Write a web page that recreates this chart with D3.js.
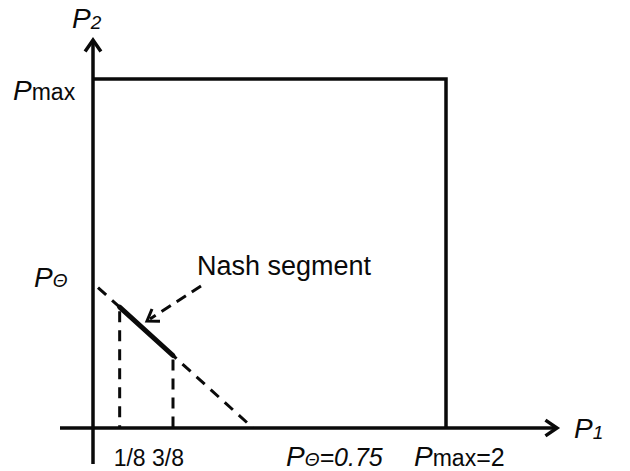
<!DOCTYPE html>
<html>
<head>
<meta charset="utf-8">
<script src="https://cdn.jsdelivr.net/npm/d3@7"></script>
<style>
  body { margin: 0; background: #fff; }
  text { font-family: "Liberation Sans", Arial, sans-serif; fill: #0a0a0a; }
</style>
</head>
<body>
<svg id="chart" width="630" height="471"></svg>
<script>
// values
const breaks = [0, 0.75, 2];          // 0, P_theta, P_max (axis not to scale)
const pTheta = 0.75;
const pMax = 2;
const nashSegment = [1 / 8, 3 / 8];
const xTickLabels = ["1/8", "3/8"];

const svg = d3.select('#chart');

// piecewise scales, the figure is a sketch so the axis is broken at P_theta
const x = d3.scaleLinear().domain(breaks).range([93, 253, 446]);
const y = d3.scaleLinear().domain(breaks).range([428, 283, 79]);

const ink = '#0a0a0a';

// arrow head (open V)
function arrowHead(g, tipX, tipY, angle, len, spread, w) {
  const a1 = angle + Math.PI - spread, a2 = angle + Math.PI + spread;
  g.append('path')
    .attr('d', `M${tipX + len * Math.cos(a1)},${tipY + len * Math.sin(a1)}L${tipX},${tipY}L${tipX + len * Math.cos(a2)},${tipY + len * Math.sin(a2)}`)
    .attr('fill', 'none')
    .attr('stroke', ink)
    .attr('stroke-width', w || 3.5)
    .attr('stroke-linejoin', 'miter');
}

const g = svg.append('g');

// axes
g.append('line')
  .attr('x1', 60).attr('x2', 555)
  .attr('y1', y(0)).attr('y2', y(0))
  .attr('stroke', ink).attr('stroke-width', 3.5);
arrowHead(g, 557, y(0), 0, 14, 0.6);

g.append('line')
  .attr('x1', x(0)).attr('x2', x(0))
  .attr('y1', 464).attr('y2', 43)
  .attr('stroke', ink).attr('stroke-width', 3.5);
arrowHead(g, x(0), 40, -Math.PI / 2, 14, 0.6);

// feasible box
g.append('path')
  .attr('d', d3.line()([[x(0), y(pMax)], [x(pMax), y(pMax)], [x(pMax), y(0)]]))
  .attr('fill', 'none')
  .attr('stroke', ink)
  .attr('stroke-width', 3.5);

// P1 + P2 = P_theta line (dashed)
g.append('line')
  .attr('x1', x(0) + 5).attr('y1', y(pTheta - (x.invert(x(0) + 5))))
  .attr('x2', x(pTheta)).attr('y2', y(0))
  .attr('stroke', ink)
  .attr('stroke-width', 3)
  .attr('stroke-dasharray', '11,8');

// verticals from nash ends
g.selectAll('.drop')
  .data(nashSegment)
  .enter()
  .append('line')
  .attr('class', 'drop')
  .attr('x1', d => x(d)).attr('x2', d => x(d))
  .attr('y1', d => y(pTheta - d) + 4).attr('y2', y(0))
  .attr('stroke', ink)
  .attr('stroke-width', 3)
  .attr('stroke-dasharray', '11,8');

// nash segment (solid, thick)
g.append('line')
  .attr('x1', x(nashSegment[0])).attr('y1', y(pTheta - nashSegment[0]))
  .attr('x2', x(nashSegment[1])).attr('y2', y(pTheta - nashSegment[1]))
  .attr('stroke', ink)
  .attr('stroke-width', 5)
  .attr('stroke-linecap', 'round');

// annotation arrow
const ax0 = 201, ay0 = 286, ax1 = 147, ay1 = 321;
g.append('line')
  .attr('x1', ax0).attr('y1', ay0)
  .attr('x2', ax1 + 3).attr('y2', ay1 - 2)
  .attr('stroke', ink)
  .attr('stroke-width', 3)
  .attr('stroke-dasharray', '11,7');
arrowHead(g, ax1, ay1, Math.atan2(ay1 - ay0, ax1 - ax0), 13, 0.6, 3);

g.append('text')
  .attr('x', 197).attr('y', 275)
  .style('font-size', '27px')
  .text('Nash segment');

// labels
function pLabel(px, py, sub, subStyle, rest, restItalic) {
  const t = g.append('text').attr('x', px).attr('y', py).style('font-size', '28px');
  t.append('tspan').style('font-style', 'italic').text('P');
  t.append('tspan')
    .style('font-size', subStyle.size)
    .style('font-style', subStyle.italic ? 'italic' : 'normal')
    .attr('dy', subStyle.dy || 0)
    .text(sub);
  if (rest) {
    t.append('tspan')
      .attr('dy', subStyle.dy ? -subStyle.dy : 0)
      .style('font-size', '25px')
      .style('font-style', restItalic ? 'italic' : 'normal')
      .text(rest);
  }
  return t;
}

pLabel(72, 28, '2', { size: '19px', italic: true, dy: 1 });
pLabel(574, 438, '1', { size: '19px', italic: true, dy: 1 });
pLabel(13, 100, 'max', { size: '23px', italic: false });
pLabel(34, 287, 'Θ', { size: '19px', italic: true });

// tick labels: 1/8 starts at its tick, 3/8 ends past its tick
g.selectAll('.xtick')
  .data(nashSegment)
  .enter()
  .append('text')
  .attr('class', 'xtick')
  .attr('x', (d, i) => x(d) + (i === 0 ? -6 : 11))
  .attr('y', 466)
  .attr('text-anchor', (d, i) => i === 0 ? 'start' : 'end')
  .style('font-size', '23px')
  .text((d, i) => xTickLabels[i]);

pLabel(x(pTheta) + 33, 466, 'Θ', { size: '19px', italic: true }, '=' + pTheta, true);
pLabel(x(pMax) - 32, 466, 'max', { size: '23px', italic: false }, '=' + pMax, false);
</script>
</body>
</html>
